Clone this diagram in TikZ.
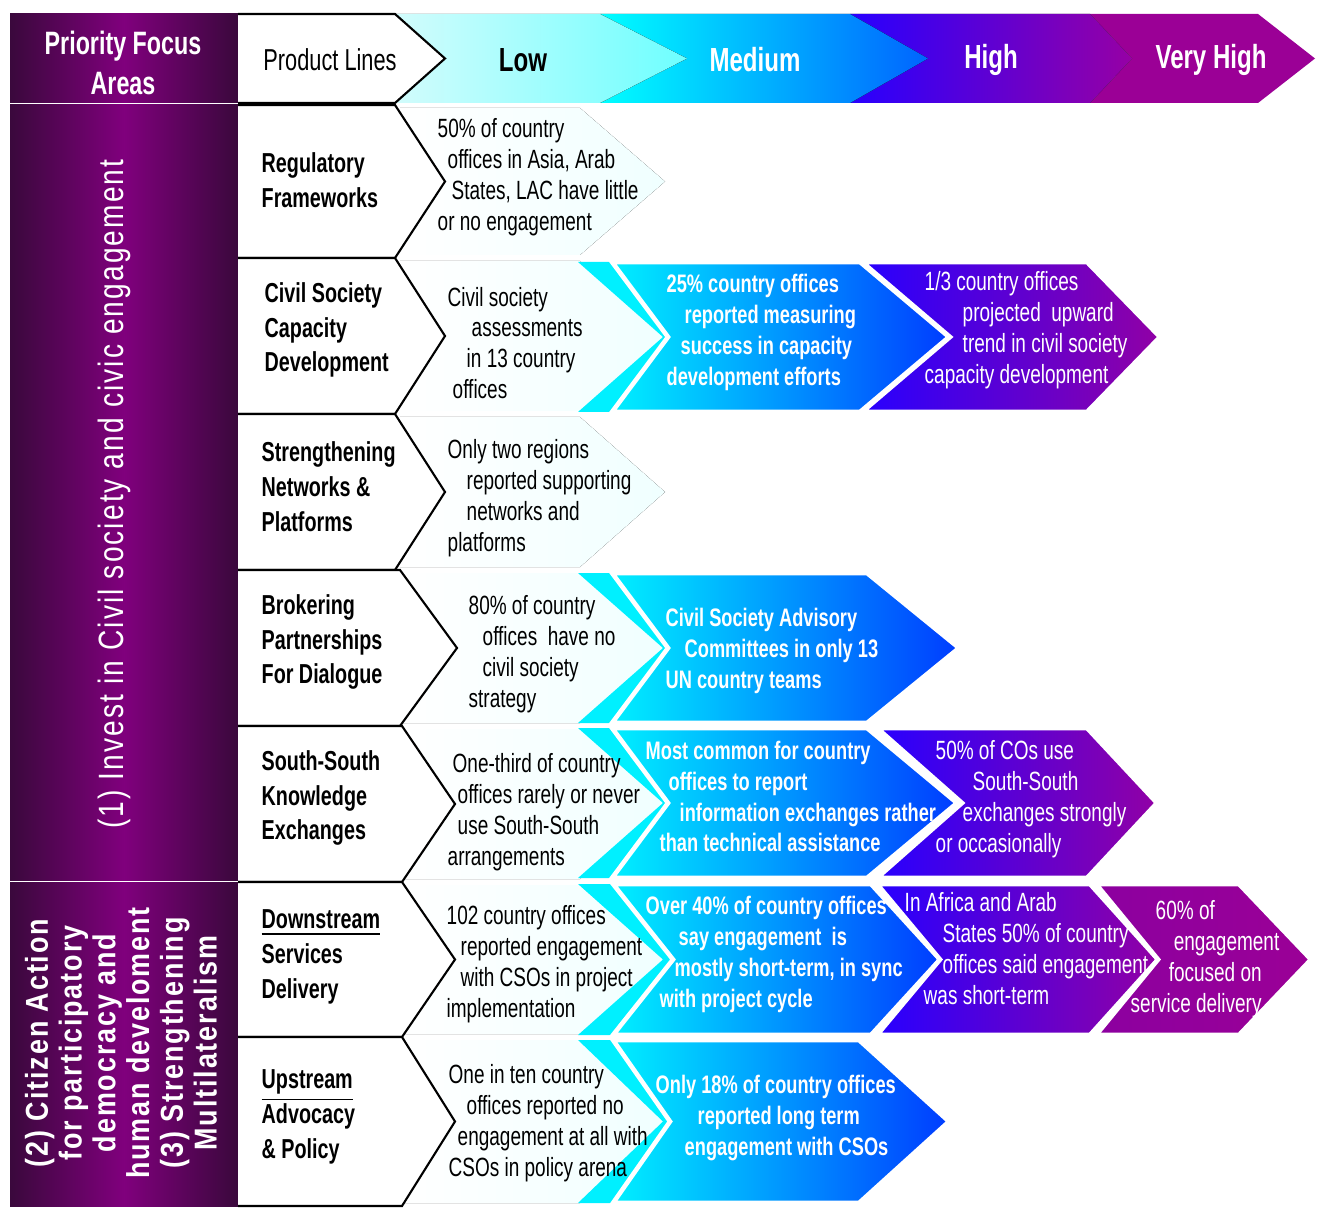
\documentclass[tikz,border=0pt]{standalone}
\usepackage{fontspec}
\setmainfont{Liberation Sans}[FakeStretch=0.72]
\newfontfamily\sidefont{Liberation Sans}[FakeStretch=0.8,LetterSpace=6]
\newfontfamily\sidefontwide{Liberation Sans}[FakeStretch=0.85,LetterSpace=6]
\newcommand\lpad[1]{\hspace*{#1mm}}
\definecolor{plumdark}{RGB}{58,8,60}
\definecolor{plum}{RGB}{128,0,125}
\definecolor{lowcyan}{RGB}{0,240,255}
\definecolor{midblue}{RGB}{0,60,255}
\definecolor{hiblue}{RGB}{40,0,255}
\definecolor{hipurple}{RGB}{145,0,165}
\definecolor{vhleft}{RGB}{140,0,160}
\definecolor{vhpurple}{RGB}{155,0,150}
\definecolor{palecyan}{RGB}{210,252,252}
\definecolor{lightcyan}{RGB}{110,255,255}
\definecolor{headblue}{RGB}{0,100,255}
\definecolor{headpurple}{RGB}{150,0,165}
\begin{document}
\begin{tikzpicture}[x = 0.01cm,y = -0.01cm,
  desc/.style={anchor=west,align=left,inner sep=0,font=\fontsize{7.5}{8.8}\selectfont},
  midtxt/.style={desc,text=white,font=\fontsize{7.2}{8.8}\selectfont\bfseries},
  hitxt/.style={desc,text=white},
  lab/.style={anchor=west,align=left,inner sep=0,font=\fontsize{7.8}{9.9}\selectfont\bfseries},
  head/.style={inner sep=0,font=\fontsize{9.5}{11}\selectfont\bfseries},
  pline/.style={draw=black,line width=0.6pt,fill=white},
  lowband/.style={left color=white,right color=cyan!6},
  midband/.style={left color=lowcyan,right color=midblue,draw=white,line width=1.3pt},
  hiband/.style={left color=hiblue,right color=hipurple,draw=white,line width=1.3pt},
  vhiband/.style={left color=vhleft,right color=vhpurple,draw=white,line width=1.3pt}]
\useasboundingbox (0,0) rectangle (1319,1216);
\foreach \ya/\yb in {14/102.5,104.5/880.5,882.5/1206}
  \fill [left color=plumdark,right color=plumdark,middle color=plum] (10,\ya) rectangle (238,\yb);
\fill [vhpurple] (1090,14) -- (1258,14) -- (1315,58.5) -- (1258,103) -- (1090,103) -- (1132,58.5) -- cycle;
\fill [left color=hiblue,right color=headpurple] (850,14) -- (1090,14) -- (1132,58.5) -- (1090,103) -- (850,103) -- (928,58.5) -- cycle;
\fill [left color=cyan,right color=headblue] (600,14) -- (850,14) -- (928,58.5) -- (850,103) -- (600,103) -- (687,58.5) -- cycle;
\fill [left color=palecyan,right color=lightcyan] (395,14) -- (600,14) -- (687,58.5) -- (600,103) -- (395,103) -- cycle;
\foreach \ya/\yb in {108/255,261/411,417/567,573/723,729/879,885/1034,1040/1203}
  \fill [lowband] (400,\ya) -- (580,\ya) -- (665,{(\ya+\yb)/2}) -- (580,\yb) -- (400,\yb) -- cycle;
\foreach \ya/\yb in {262/412,573/723,728/878,884/1035,1040/1203}
  \fill [lowcyan] (578,\ya) -- (614,\ya) -- (672,{(\ya+\yb)/2}) -- (614,\yb) -- (578,\yb) -- (663,{(\ya+\yb)/2}) -- cycle;
\foreach \xa/\na/\xb/\tb/\ya/\yb/\band in {612/56/860/89/262/412/midband,862/88/1087/73/262/412/hiband,
  612/56/867/92/573/723/midband,612/56/867/90/728/878/midband,877/85/1087/70/728/878/hiband,
  613/60/871/69/884/1035/midband,877/63/1090/68/884/1035/hiband,1096/62/1239/72/884/1035/vhiband,
  613/57/859/90/1040/1203/midband}
  \filldraw [\band] (\xa,\ya) -- (\xb,\ya) -- (\xb+\tb,{(\ya+\yb)/2}) -- (\xb,\yb) -- (\xa,\yb) -- (\xa+\na,{(\ya+\yb)/2}) -- cycle;
\draw [pline] (238,14) -- (395,14) -- (445,58.5) -- (395,103) -- (238,103);
\foreach \ya/\yb/\xr/\xt in {105/258/395/445,258/414/395/445,414/570/395/445,570/726/400/457,726/882/402/455,882/1037/402/455,1037/1206/402/455}
  \draw [pline] (238,\ya) -- (\xr,\ya) -- (\xt,{(\ya+\yb)/2}) -- (\xr,\yb) -- (238,\yb);
\node [head,text=white,align=center,font=\fontsize{9.2}{11.3}\selectfont\bfseries] (pfa) at (123,63) {Priority Focus\\Areas};
\node [head,font=\fontsize{8.6}{10}\selectfont] (plines) at (330,60) {Product Lines};
\foreach \x/\label/\col in {523/Low/black,755/Medium/white,991/High/white,1211/Very High/white}
  \node [head,text=\col] (lvl\label) at (\x,60) {\label};
\node [rotate=90,text=white,font=\sidefont\fontsize{10}{12}\selectfont] (area1) at (114,494) {(1) Invest in Civil society and civic engagement};
\node [rotate=90,align=center,text=white,font=\sidefontwide\bfseries\fontsize{9}{9.6}\selectfont] (area2) at (121,1043) {(2) Citizen Action\\for participatory\\democracy and\\human develoment\\(3) Strengthening\\Multilateralism};
\node [lab] (lab1) at (261,180) {Regulatory\\Frameworks};
\node [lab] (lab2) at (264,330) {Civil Society\\Capacity\\Development};
\node [lab] (lab3) at (261,487) {Strengthening\\Networks \&\\Platforms};
\node [lab] (lab4) at (261,642) {Brokering\\Partnerships\\For Dialogue};
\node [lab] (lab5) at (261,798) {South-South\\Knowledge\\Exchanges};
\node [lab] (lab6) at (261,957) {\underline{Downstream}\\Services\\Delivery};
\node [lab] (lab7) at (261,1117) {\underline{Upstream}\\Advocacy\\\& Policy};
\node [desc] (low1) at (437,177.5) {50\% of country\\\lpad{1}offices in Asia, Arab\\\lpad{1.4}States, LAC have little\\or no engagement};
\node [desc] (low2) at (447,343) {Civil society\\\lpad{2.4}assessments\\\lpad{1.9}in 13 country\\\lpad{0.5}offices};
\node [desc] (low3) at (447,498.5) {Only two regions\\\lpad{1.9}reported supporting\\\lpad{1.9}networks and\\platforms};
\node [desc] (low4) at (468,654.5) {80\% of country\\\lpad{1.4}offices\ \ have no\\\lpad{1.4}civil society\\strategy};
\node [desc] (low5) at (447,812.5) {\lpad{0.5}One-third of country\\\lpad{1}offices rarely or never\\\lpad{1}use South-South\\arrangements};
\node [desc] (low6) at (446,964.5) {102 country offices\\\lpad{1.4}reported engagement\\\lpad{1.4}with CSOs in project\\implementation};
\node [desc] (low7) at (448,1123) {One in ten country\\\lpad{1.8}offices reported no\\\lpad{0.9}engagement at all with\\CSOs in policy arena};
\node [midtxt] (mid2) at (666,332.5) {25\% country offices\\\lpad{1.8}reported measuring\\\lpad{1.4}success in capacity\\development efforts};
\node [midtxt] (mid4) at (665,651) {Civil Society Advisory\\\lpad{1.9}Committees in only 13\\UN country teams};
\node [midtxt] (mid5) at (645,796.5) {Most common for country\\\lpad{2.3}offices to report\\\lpad{3.4}information exchanges rather\\\lpad{1.4}than technical assistance};
\node [midtxt] (mid6) at (645,954.5) {Over 40\% of country offices\\\lpad{3.3}say engagement\ \ is\\\lpad{2.9}mostly short-term, in sync\\\lpad{1.4}with project cycle};
\node [midtxt] (mid7) at (655,1118) {Only 18\% of country offices\\\lpad{4.2}reported long term\\\lpad{2.9}engagement with CSOs};
\node [hitxt] (hi2) at (924,330.5) {1/3 country offices\\\lpad{3.8}projected\ \ upward\\\lpad{3.8}trend in civil society\\capacity development};
\node [hitxt] (hi5) at (935,799) {50\% of COs use\\\lpad{3.7}South-South\\\lpad{2.7}exchanges strongly\\or occasionally};
\node [hitxt] (hi6) at (904,948.5) {In Africa and Arab\\\lpad{3.8}States 50\% of country\\\lpad{3.8}offices said engagement\\\lpad{1.9}was short-term};
\node [hitxt] (vhi6) at (1130,959) {\lpad{2.5}60\% of\\\lpad{4.3}engagement\\\lpad{3.8}focused on\\service delivery};
\end{tikzpicture}
\end{document}
